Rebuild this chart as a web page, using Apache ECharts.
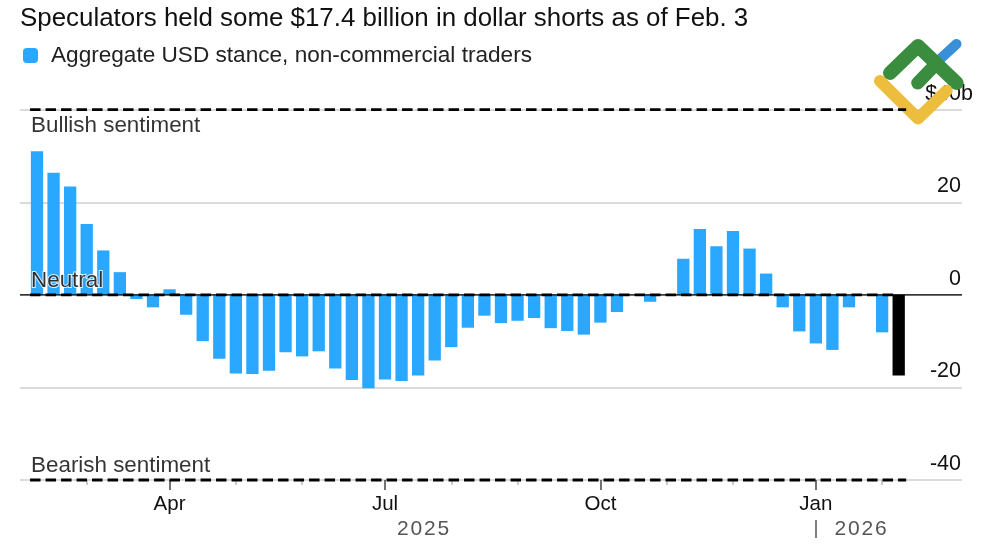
<!DOCTYPE html>
<html><head><meta charset="utf-8">
<script src="https://cdn.jsdelivr.net/npm/echarts@6/dist/echarts.min.js"></script>
<style>html,body{margin:0;padding:0;background:#fff}#c{width:1000px;height:545px}</style></head>
<body><div id="c"></div>
<script>
const titleText = 'Speculators held some $17.4 billion in dollar shorts as of Feb. 3';
const seriesName = 'Aggregate USD stance, non-commercial traders';
const usdStance = [31.0,26.4,23.4,15.3,9.6,4.9,-0.9,-2.7,1.2,-4.3,-10.0,-13.8,-17.0,-17.1,-16.4,-12.4,-13.3,-12.2,-15.9,-18.4,-20.2,-18.3,-18.6,-17.4,-14.2,-11.3,-7.1,-4.5,-6.1,-5.6,-5.0,-7.2,-7.8,-8.6,-6.0,-3.7,null,-1.5,null,7.8,14.2,10.5,13.8,10.0,4.6,-2.7,-7.9,-10.5,-11.9,-2.7,null,-8.1,-17.4];
const latestIndex = 52;
const majorTicks = [8,21,34,47];
const majorLabels = ['Apr','Jul','Oct','Jan'];
const minorTicks = [3,12,16,25,29,38,42,51];
const yearPositions = [23.3,49.7];
const yearLabels = ['2025','2026'];
const yearSeparator = [47];
const sentimentLevels = [40,0,-40];
const sentimentNames = ['Bullish sentiment','Neutral','Bearish sentiment'];
const sentimentLabelY = [36.5,3.0,-37.0];
const xMin = -1.026, xMax = 55.82, dashStart = -0.42, dashEnd = 52.45, labelX = -0.36;
const font = '"Liberation Sans", Arial, sans-serif';

const chart = echarts.init(document.getElementById('c'), null, {renderer:'canvas'});
const baseX = {type:'value', min:xMin, max:xMax, position:'bottom', splitLine:{show:false}, axisLine:{show:false,onZero:false}};
const logoLine = (pts,color,w,z)=>({type:'polyline',z:z,shape:{points:pts},style:{stroke:color,lineWidth:w,fill:null,lineCap:'round',lineJoin:'round'}});
chart.setOption({
  animation:false,
  backgroundColor:'#fff',
  title:{text:titleText,left:20,top:6,padding:0,textStyle:{fontFamily:font,fontSize:25.9,fontWeight:'normal',color:'#111'}},
  legend:{data:[seriesName],left:23,top:44,padding:0,itemWidth:15,itemHeight:15,itemGap:13,icon:'roundRect',
    textStyle:{fontFamily:font,fontSize:22.6,color:'#222',padding:[0,0,0,8]}},
  grid:{left:20,right:38,top:109.7,height:370.3,containLabel:false},
  xAxis:[
    Object.assign({},baseX,{axisTick:{show:true,customValues:majorTicks,length:10,lineStyle:{color:'#444',width:1.5}},
      axisLabel:{show:true,customValues:majorTicks,margin:14,fontFamily:font,fontSize:20.5,color:'#111',
        formatter:v=>majorLabels[majorTicks.indexOf(v)]}}),
    Object.assign({},baseX,{axisTick:{show:true,customValues:minorTicks,length:5,lineStyle:{color:'#bbb',width:1.5}},axisLabel:{show:false}}),
    Object.assign({},baseX,{offset:40,axisTick:{show:true,customValues:yearSeparator,length:18,lineStyle:{color:'#555',width:1.5}},
      axisLabel:{show:true,customValues:yearPositions,margin:-1,fontFamily:font,fontSize:21,color:'#555',
        formatter:v=>yearLabels[yearPositions.indexOf(v)].split('').join('\u200A')}})
  ],
  yAxis:{type:'value',min:-40,max:40,interval:20,position:'right',
    axisLine:{show:false},axisTick:{show:false},
    splitLine:{show:true,lineStyle:{color:'#cfcfcf',width:1.5}},
    axisLabel:{inside:true,margin:-11,align:'right',verticalAlign:'bottom',
      formatter:v=>v===40?'{t|$40b}':'{n|'+v+'}',
      rich:{t:{fontFamily:font,fontSize:21.5,color:'#111',padding:[0,0,5,0]},
            n:{fontFamily:font,fontSize:21.5,color:'#111',padding:[0,12,5,0]}}}},
  series:[
    {type:'bar',name:seriesName,barWidth:12.3,itemStyle:{color:'#2AA7FF'},z:2,
      data:usdStance.map((v,i)=>i===latestIndex?{value:[i,v],itemStyle:{color:'#000'}}:[i,v])},
    {type:'line',silent:true,showSymbol:false,clip:false,z:3,lineStyle:{color:'#000',width:1.2},data:[[xMin,0],[xMax,0]]},
    ...sentimentLevels.map(l=>({type:'line',silent:true,showSymbol:false,clip:false,z:4,
      lineStyle:{color:'#000',width:2.8,type:[10.5,5]},data:[[dashStart,l],[l===0?latestIndex-0.3:dashEnd,l]]})),
    {type:'scatter',silent:true,symbolSize:0,clip:false,z:5,
      data:sentimentNames.map((n,i)=>({name:n,value:[labelX,sentimentLabelY[i]],
        label:{textBorderColor:'#fff',textBorderWidth:n==='Neutral'?2:0}})),
      label:{show:true,position:'right',distance:0,formatter:p=>p.name,fontFamily:font,fontSize:22.4,color:'#000'}}
  ],
  graphic:[{type:'group',z:100,children:[
    logoLine([[938,61],[956.5,44]],'#3A8FD9',10,1),
    logoLine([[890,73],[918,46],[956.7,83]],'#3A8C3F',14,2),
    logoLine([[936.7,63.3],[917.7,83]],'#3A8C3F',13,2),
    logoLine([[880,81],[918,118.5],[946.7,90.7]],'#EDBD3E',12,3)
  ]}]
});
</script></body></html>
